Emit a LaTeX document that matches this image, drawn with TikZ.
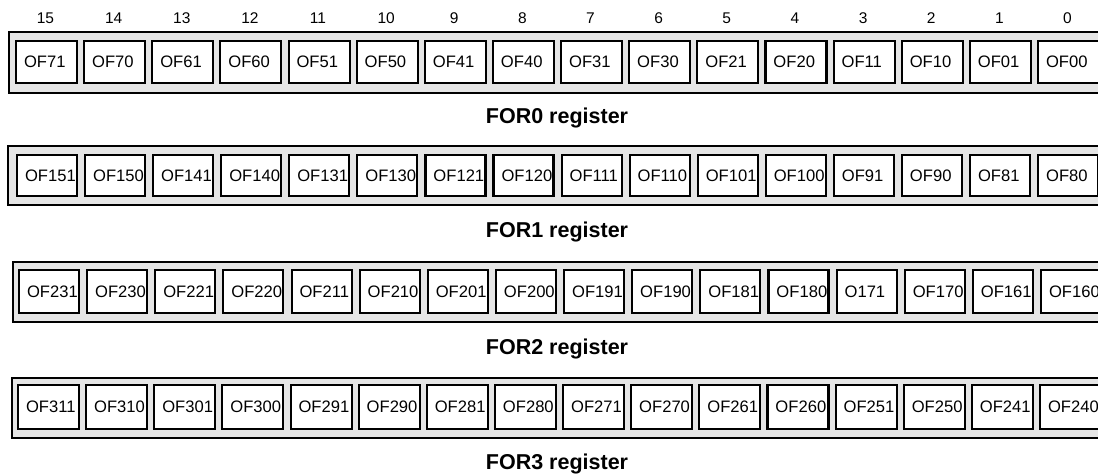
\documentclass[tikz,border=0pt]{standalone}
\usepackage{fontspec}
\setmainfont{Liberation Sans}
\definecolor{regfill}{RGB}{229,229,229}
\tikzset{
  regbox/.style={draw=black, fill=regfill, line width=2.1pt, inner sep=0pt, anchor=north west},
  cell/.style={draw=black, fill=white, line width=2.1pt, anchor=north west, inner xsep=8pt, inner ysep=0pt,
     text width=#1, align=left, minimum height=42pt, font=\fontsize{16.6}{19}\selectfont},
  bitnum/.style={font=\fontsize{15.5}{18}\selectfont, inner sep=0pt},
  reglabel/.style={font=\fontsize{21.5}{24}\selectfont\bfseries, inner sep=0pt}
}
\begin{document}
\begin{tikzpicture}[x=1pt,y=-1pt]
\clip (0,0) rectangle (1098,475);
\fill[white] (0,0) rectangle (1098,475);
% outer register frames
\node[regbox, minimum width=1094pt, minimum height=61pt] (frame0) at (8,31) {};
\node[regbox, minimum width=1095pt, minimum height=59pt] (frame1) at (7,145) {};
\node[regbox, minimum width=1090pt, minimum height=60pt] (frame2) at (12,261) {};
\node[regbox, minimum width=1091pt, minimum height=60pt] (frame3) at (11,377) {};
% row 0
\foreach \t [count=\i from 0] in {OF71,OF70,OF61,OF60,OF51,OF50,OF41,OF40,OF31,OF30,OF21,OF20,OF11,OF10,OF01,OF00}{
  \node[cell=45pt] (c0-\i) at ({15+68.13*\i},40) {\t};
  \pgfmathtruncatemacro{\b}{15-\i}
  \node[bitnum] (bit\b) at ({15+30.5+68.13*\i},18) {\b};
}
% row 1
\foreach \t [count=\i from 0] in {OF151,OF150,OF141,OF140,OF131,OF130,OF121,OF120,OF111,OF110,OF101,OF100,OF91,OF90,OF81,OF80}{
  \node[cell=44pt, minimum height=41pt] (c1-\i) at ({16+68.07*\i},154) {\t};
}
% row 2
\foreach \t [count=\i from 0] in {OF231,OF230,OF221,OF220,OF211,OF210,OF201,OF200,OF191,OF190,OF181,OF180,O171,OF170,OF161,OF160}{
  \node[cell=44pt, minimum height=43pt] (c2-\i) at ({18+68.13*\i},269) {\t};
}
% row 3
\foreach \t [count=\i from 0] in {OF311,OF310,OF301,OF300,OF291,OF290,OF281,OF280,OF271,OF270,OF261,OF260,OF251,OF250,OF241,OF240}{
  \node[cell=45pt, minimum height=44pt] (c3-\i) at ({17+68.13*\i},384) {\t};
}
% register names
\node[reglabel] (lab0) at (557,118) {FOR0 register};
\node[reglabel] (lab1) at (557,232) {FOR1 register};
\node[reglabel] (lab2) at (557,349) {FOR2 register};
\node[reglabel] (lab3) at (557,464) {FOR3 register};
\end{tikzpicture}
\end{document}
